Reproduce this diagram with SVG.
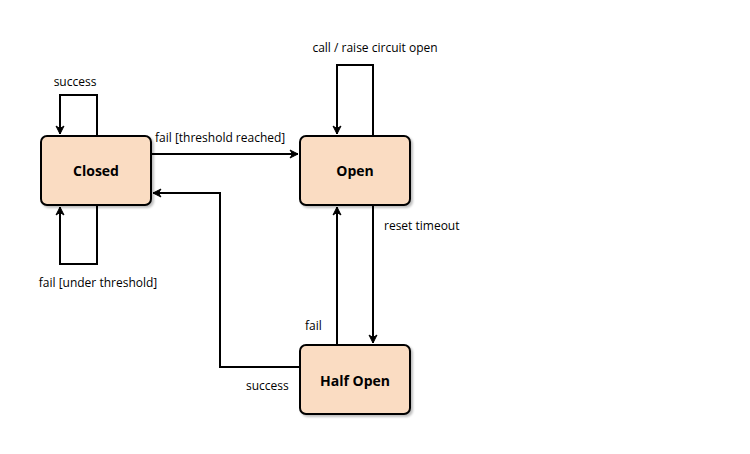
<svg xmlns="http://www.w3.org/2000/svg" width="750" height="454" viewBox="0 0 750 454">
<defs>
<marker id="arr" viewBox="0 0 10 10" refX="9" refY="5" markerWidth="10" markerHeight="10" markerUnits="userSpaceOnUse" orient="auto">
<path d="M1,1 L9,5 L1,9 L3.5,5 Z" fill="#000" stroke="#000" stroke-width="1" stroke-linejoin="round"/>
</marker>
<filter id="sh" x="-10%" y="-10%" width="130%" height="130%">
<feDropShadow dx="2" dy="2" stdDeviation="1.2" flood-color="#000" flood-opacity="0.25"/>
</filter>
</defs>
<style>
.box{fill:#fadcc2;stroke:#000;stroke-width:2;filter:url(#sh)}
.title{font-family:"Open Sans",sans-serif;font-size:14px;font-weight:bold;text-anchor:middle;fill:#000}
.lbl{font-family:"Open Sans",sans-serif;font-size:12px;fill:#000}
.edge{fill:none;stroke:#000;stroke-width:2;marker-end:url(#arr)}
</style>
<rect width="750" height="454" fill="#fff"/>
<g id="connectors">
<path class="edge" d="M97,136 V95 H60 V134"/>
<path class="edge" d="M97,205 V264 H60 V207"/>
<path class="edge" d="M151,154 H298"/>
<path class="edge" d="M373,136 V65 H337 V134"/>
<path class="edge" d="M373,205 V343"/>
<path class="edge" d="M337,345 V207"/>
<path class="edge" d="M300,367 H220 V193 H153"/>
<text class="lbl" x="75" y="86" text-anchor="middle">success</text>
<text class="lbl" x="98" y="287" text-anchor="middle">fail [under threshold]</text>
<text class="lbl" x="155" y="142">fail [threshold reached]</text>
<text class="lbl" x="375" y="52" text-anchor="middle">call / raise circuit open</text>
<text class="lbl" x="384" y="230">reset timeout</text>
<text class="lbl" x="305" y="330">fail</text>
<text class="lbl" x="246" y="390">success</text>
</g>
<g id="closed">
<rect class="box" x="41" y="136" width="110" height="69" rx="6"/>
<text class="title" x="96" y="176">Closed</text>
</g>
<g id="open">
<rect class="box" x="300" y="136" width="110" height="69" rx="6"/>
<text class="title" x="355" y="176">Open</text>
</g>
<g id="halfopen">
<rect class="box" x="300" y="345" width="110" height="69" rx="6"/>
<text class="title" x="355" y="386">Half Open</text>
</g>
</svg>
